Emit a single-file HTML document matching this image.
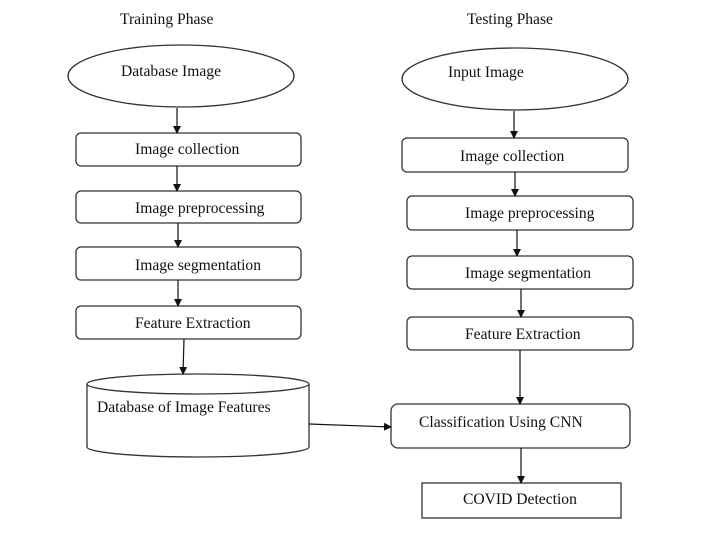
<!DOCTYPE html>
<html><head><style>
html,body{margin:0;padding:0;background:#fff;}
svg{display:block;}
text{font-family:"Liberation Serif",serif;font-size:15.6px;fill:#111;}
</style></head><body>
<svg width="714" height="549" viewBox="0 0 714 549" xmlns="http://www.w3.org/2000/svg">
<defs><marker id="a" markerWidth="8" markerHeight="8" refX="7" refY="4" orient="auto" markerUnits="userSpaceOnUse"><path d="M0,0 L8,4 L0,8 z" fill="#111"/></marker></defs>
<g fill="none" stroke="#333" stroke-width="1.3">
<text x="120" y="24" stroke="none">Training Phase</text>
<text x="467" y="24" stroke="none">Testing Phase</text>
<ellipse cx="181" cy="76" rx="113" ry="31"/>
<rect x="76" y="133" width="225" height="33" rx="5"/>
<rect x="76" y="191" width="225" height="32" rx="5"/>
<rect x="76" y="247" width="225" height="33" rx="5"/>
<rect x="76" y="306" width="225" height="33" rx="5"/>
<path d="M87,384 L87,447 A111,10 0 0 0 309,447 L309,384"/>
<ellipse cx="198" cy="384" rx="111" ry="10"/>
<ellipse cx="515" cy="79" rx="113" ry="31"/>
<rect x="402" y="138" width="226" height="34" rx="5"/>
<rect x="407" y="196" width="226" height="34" rx="5"/>
<rect x="407" y="256" width="226" height="33" rx="5"/>
<rect x="407" y="317" width="226" height="33" rx="5"/>
<rect x="391" y="404" width="239" height="44" rx="7"/>
<rect x="422" y="483" width="199" height="35"/>
</g>
<g stroke="#111" stroke-width="1.2" marker-end="url(#a)">
<line x1="177" y1="108" x2="177" y2="133"/>
<line x1="177" y1="166" x2="177" y2="191"/>
<line x1="178" y1="223" x2="178" y2="247"/>
<line x1="178" y1="280" x2="178" y2="306"/>
<line x1="184" y1="339" x2="183" y2="374"/>
<line x1="514" y1="111" x2="514" y2="138"/>
<line x1="515" y1="172" x2="515" y2="196"/>
<line x1="517" y1="230" x2="517" y2="256"/>
<line x1="521" y1="289" x2="521" y2="317"/>
<line x1="520" y1="350" x2="520" y2="404"/>
<line x1="521" y1="448" x2="521" y2="483"/>
<line x1="309" y1="424" x2="391" y2="427"/>
</g>
<text x="121" y="76">Database Image</text>
<text x="135" y="154">Image collection</text>
<text x="135" y="213">Image preprocessing</text>
<text x="135" y="270">Image segmentation</text>
<text x="135" y="328">Feature Extraction</text>
<text x="97" y="412">Database of Image Features</text>
<text x="448" y="77">Input Image</text>
<text x="460" y="161">Image collection</text>
<text x="465" y="218">Image preprocessing</text>
<text x="465" y="278">Image segmentation</text>
<text x="465" y="339">Feature Extraction</text>
<text x="419" y="427">Classification Using CNN</text>
<text x="463" y="504">COVID Detection</text>
</svg>
</body></html>
